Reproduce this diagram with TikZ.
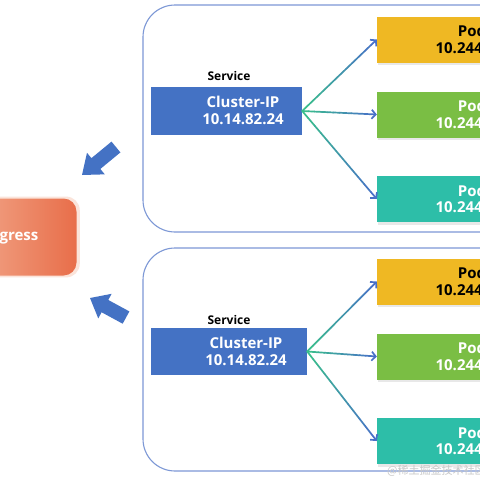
\documentclass[tikz,border=0pt]{standalone}
\usepackage{fontspec}
\setmainfont{Open Sans}
\newfontfamily\cjk{Noto Sans CJK SC}
\usetikzlibrary{arrows.meta,calc,shadows}
\definecolor{kblue}{RGB}{68,114,196}
\definecolor{frame}{RGB}{125,152,214}
\definecolor{podyellow}{RGB}{239,184,35}
\definecolor{podgreen}{RGB}{122,190,68}
\definecolor{podteal}{RGB}{45,190,168}
\definecolor{ingL}{RGB}{244,178,150}
\definecolor{ingR}{RGB}{232,110,74}
\definecolor{cgreen}{RGB}{58,190,140}
\definecolor{cblue}{RGB}{72,112,200}
\definecolor{wmark}{RGB}{200,200,200}
\tikzset{
  container/.style={draw=frame, line width=1.1pt, rounded corners=32pt},
  svcbox/.style={fill=kblue, inner sep=0pt},
  svctext/.style={text=white, font=\bfseries\fontsize{15}{17}\selectfont, align=center, inner sep=0pt},
  svclabel/.style={font=\bfseries\fontsize{12}{14}\selectfont, text=black, inner sep=0pt},
  podbox/.style={minimum width=190pt, minimum height=46pt, inner sep=0pt,
    font=\bfseries\fontsize{15}{16.5}\selectfont, align=center,
    drop shadow={opacity=0.18, shadow xshift=1pt, shadow yshift=-2.5pt}},
  ingress/.style={rounded corners=13pt, minimum width=130pt, minimum height=77pt,
    left color=ingL, right color=ingR, text=white, inner sep=0pt,
    font=\bfseries\fontsize{15}{17}\selectfont,
    drop shadow={shadow xshift=0pt, shadow yshift=0pt, shadow scale=1.05, fill=ingL, opacity=0.35}},
  conn/.style={line width=1.7pt},
  blockarrow/.style={fill=kblue},
  wm/.style={font=\cjk\fontsize{11}{12}\selectfont, text=wmark, inner sep=0pt}
}
\newcommand{\gconn}[2]{%
  \foreach \i in {0,...,11}{%
    \pgfmathsetmacro{\pa}{\i/12}%
    \pgfmathsetmacro{\pb}{(\i+1)/12}%
    \pgfmathtruncatemacro{\pc}{100*\i/11}%
    \ifnum\i=11
      \draw[conn, cblue!\pc!cgreen, -{Straight Barb[length=4pt,width=9pt]}] ($(#1)!\pa!(#2)$) -- ($(#1)!\pb!(#2)$);
    \else
      \draw[conn, line cap=round, cblue!\pc!cgreen] ($(#1)!\pa!(#2)$) -- ($(#1)!\pb!(#2)$);
    \fi
  }}
\begin{document}
\begin{tikzpicture}[x=1pt,y=1pt]
\useasboundingbox (0,0) rectangle (480,-480);
\clip (0,0) rectangle (480,-480);
\fill[white] (0,0) rectangle (480,-480);

% containers
\draw[container] (143,-5) rectangle (560,-232);
\draw[container] (143,-248) rectangle (560,-471);

% ingress
\node[ingress] (ing) at (11.5,-237) {Ingress};

% block arrows
\begin{scope}[shift={(82,-175)}, rotate=39.5]
  \fill[blockarrow] (0,0) -- (18,14) -- (18,7) -- (44,7) -- (44,-7) -- (18,-7) -- (18,-14) -- cycle;
\end{scope}
\begin{scope}[shift={(90,-298)}, rotate=-28.5]
  \fill[blockarrow] (0,0) -- (17,14) -- (17,7) -- (41,7) -- (41,-7) -- (17,-7) -- (17,-14) -- cycle;
\end{scope}

% top service
\node[svclabel] (lab1) at (229,-76) {Service};
\node[svcbox, minimum width=151pt, minimum height=48pt] (svc1) at (226.5,-111) {};
\node[svctext] (svc1t) at (243,-110.5) {Cluster-IP\\10.14.82.24};

% top pods
\node[podbox, fill=podyellow, text=black] (p1) at (472,-39.5) {Pod\\10.244.1.1};
\node[podbox, fill=podgreen, text=white] (p2) at (472,-114.5) {Pod\\10.244.1.2};
\node[podbox, fill=podteal, text=white] (p3) at (472,-199) {Pod\\10.244.1.3};

% bottom service
\node[svclabel] (lab2) at (229,-320) {Service};
\node[svcbox, minimum width=156pt, minimum height=47pt] (svc2) at (229,-351.5) {};
\node[svctext] (svc2t) at (246,-351) {Cluster-IP\\10.14.82.24};

% bottom pods
\node[podbox, fill=podyellow, text=black] (q1) at (472,-281.5) {Pod\\10.244.2.1};
\node[podbox, fill=podgreen, text=white] (q2) at (472,-356.5) {Pod\\10.244.2.2};
\node[podbox, fill=podteal, text=white] (q3) at (472,-441) {Pod\\10.244.2.3};

% connectors
\gconn{svc1.east}{p1.west}
\gconn{svc1.east}{p2.west}
\gconn{svc1.east}{p3.west}
\gconn{svc2.east}{q1.west}
\gconn{svc2.east}{q2.west}
\gconn{svc2.east}{q3.west}

% watermark
\node[wm, anchor=west] (wmk) at (387,-471) {@稀土掘金技术社区};
\end{tikzpicture}
\end{document}
